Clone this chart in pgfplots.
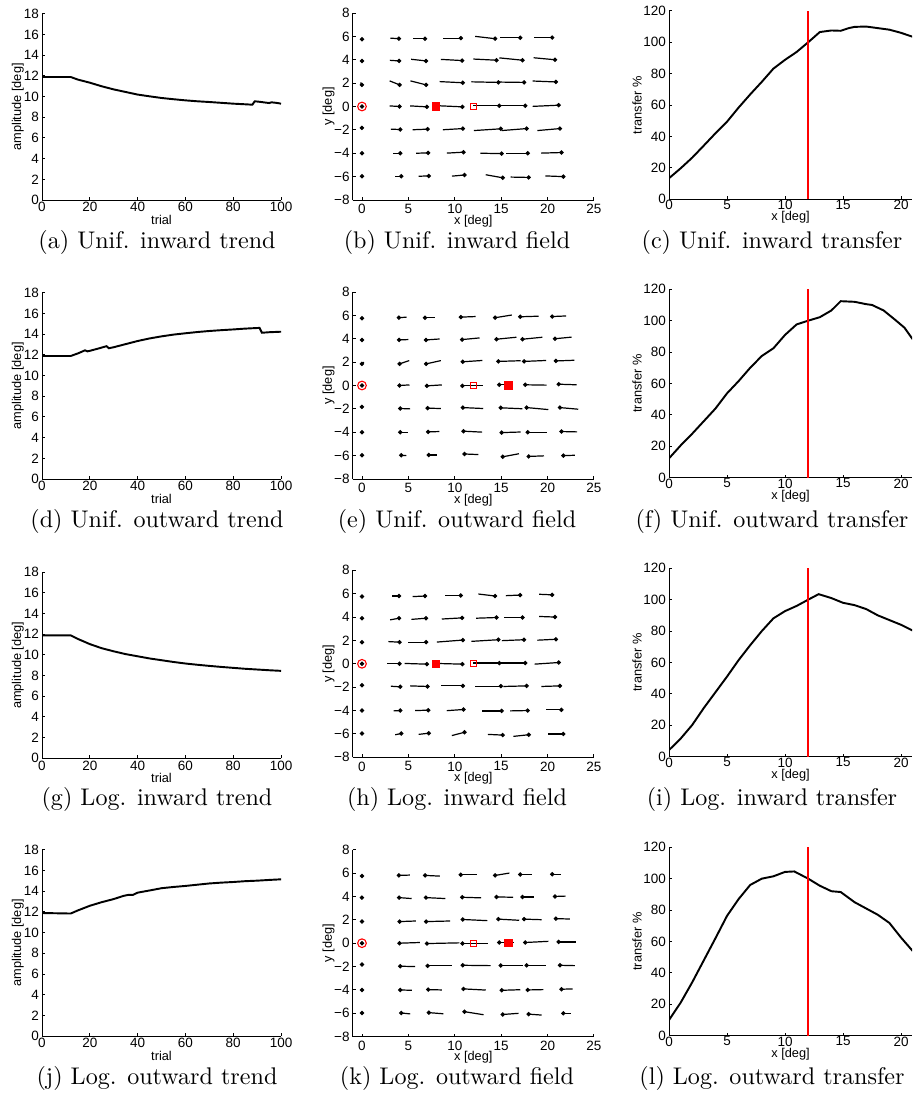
\documentclass[border=0pt]{standalone}
\usepackage{fontspec}
\usepackage{pgfplots}
\usepackage{pgfplotstable}
\pgfplotsset{compat=1.18}
\newfontfamily\arial{Liberation Sans}
\newcommand\px{0.415pt}

% amplitude trends (trial, amplitude)
\pgfplotstableread{
x y
0 11.9
12 11.9
15 11.65
20 11.35
25 11.0
30 10.7
35 10.45
40 10.2
45 10.03
50 9.87
55 9.75
60 9.64
65 9.55
70 9.48
75 9.4
80 9.32
85 9.26
88 9.22
89 9.55
91 9.5
95 9.38
96 9.45
98 9.4
100 9.32
}\trendA
\pgfplotstableread{
x y
0 11.9
12 11.9
15 12.15
18 12.45
19 12.35
20 12.4
24 12.65
27 12.85
28 12.65
30 12.75
35 13.05
40 13.35
45 13.6
50 13.8
55 13.97
60 14.1
65 14.22
70 14.32
75 14.4
80 14.47
85 14.55
91 14.62
92 14.15
95 14.2
100 14.25
}\trendD
\pgfplotstableread{
x y
0 11.9
12 11.9
15 11.55
20 11.05
25 10.65
30 10.35
35 10.08
40 9.87
45 9.66
50 9.49
55 9.32
60 9.17
65 9.05
70 8.94
75 8.84
80 8.75
85 8.66
90 8.59
95 8.52
100 8.46
}\trendG
\pgfplotstableread{
x y
0 11.9
12 11.85
15 12.15
20 12.6
25 12.95
30 13.25
34 13.55
36 13.65
38 13.65
40 13.87
45 14.08
50 14.3
55 14.42
60 14.52
65 14.64
70 14.76
75 14.84
80 14.9
85 14.98
90 15.03
95 15.1
100 15.16
}\trendJ

% transfer curves (x [deg], transfer %)
\pgfplotstableread{
x y
0 13.4
1 19.7
2 26.5
3 34.2
4 42
5 49.4
6 58.4
7 66.8
8 74.8
9 83.2
10 88.8
11 93.8
12 100
13 106.5
14 107.5
14.8 107.3
15.5 109
16 109.8
17 110
18 109
19 108
20 106
21 103.5
}\transC
\pgfplotstableread{
x y
0 12.3
1 20.5
2 28
3 36
4 44
5 53.7
6 61.5
7 70
8 77.5
9 82.4
10 90.9
11 97.6
12 100
13 102.2
14 106.5
14.8 112.4
16 112
17 110.5
17.5 110
18.5 106.5
19.5 100.5
20.3 95.5
21 88.2
}\transF
\pgfplotstableread{
x y
0 4.2
1 11.5
2 20.2
3 31
4 41
5 51
6 61.5
7 71
8 80
9 88.1
10 92.7
11 96
12 100
12.9 103.5
14 101
15 98
16 96.5
17 94
18 90
19 87
20 84
21 80.3
}\transI
\pgfplotstableread{
x y
0 10
1 21
2 34
3 48
4 62
5 76.3
6 87
7 96
8 100
9 101.5
10 104.3
10.8 104.6
12 100
13 95.5
14 92
14.8 91.5
16 85
17 81
18 77
19 71.8
20 62.5
21 54
}\transL

% fields: dot position (x,y) and segment (u,v)
\pgfplotstableread{
x y u v
0 5.75 0 0
3.98 5.8 -0.93 0.05
6.8 5.8 -1.35 0
10.65 5.85 -1.9 0
14.35 5.8 -2.15 0.2
17.05 5.88 -2.15 0
20.5 5.9 -2.0 0
0 3.9 0 0
4.0 3.9 -1.0 0.05
6.9 3.9 -1.6 0.14
10.8 3.93 -2.3 0.1
14.5 3.96 -2.5 0.1
17.3 3.96 -2.5 0.2
20.8 4.0 -2.3 0.17
0 1.85 -0.15 0.2
4.05 1.85 -1.07 0.34
6.92 1.85 -1.7 0.34
10.87 2.03 -2.5 0.1
14.7 2.06 -2.9 0.05
17.47 2.06 -2.7 0.03
20.9 2.1 -2.5 0.08
0 0 0 0
4.05 0 -1.07 0.05
7.0 -0.03 -1.8 0.08
10.83 -0.03 -2.8 0.1
14.8 0.06 -2.8 0
17.6 0.06 -2.8 0
21.2 0.11 -2.8 -0.1
0 -1.83 0 0
4.12 -1.97 -1.0 0.03
7.07 -1.94 -1.6 -0.05
10.87 -1.89 -2.15 -0.1
14.96 -1.91 -2.9 -0.15
17.75 -1.89 -2.7 -0.17
21.34 -1.89 -2.44 -0.17
0 -4.0 0 0
4.12 -4.0 -0.8 0
7.14 -3.97 -1.3 -0.03
10.94 -3.91 -1.8 -0.08
15.06 -4.03 -2.3 0.03
17.86 -4.0 -2.3 0
21.5 -3.94 -2.2 -0.05
0 -5.97 0 0
4.23 -5.97 -0.65 0
7.2 -5.94 -1.1 -0.03
11.05 -5.86 -1.35 -0.1
15.17 -6.1 -1.83 0.26
17.97 -6.07 -1.95 0.03
21.7 -6.0 -1.94 0.06
}\fieldB
\pgfplotstableread{
x y u v
0 5.75 0 0
3.98 5.8 0.83 0.05
6.8 5.8 1.08 0
10.65 5.85 1.6 0.05
14.35 5.8 1.8 0.23
17.05 5.88 2.0 0.05
20.5 5.9 1.5 0.05
0 3.9 0 0
4.0 3.9 1.0 0.03
6.9 3.9 1.47 0.08
10.8 3.93 1.87 0.14
14.5 3.96 2.15 0.17
17.3 3.96 2.15 0.17
20.8 4.0 1.8 0.14
0 1.85 0.2 0.15
4.05 1.85 1.04 0.28
6.92 1.85 1.58 0.28
10.87 2.03 2.1 0.11
14.7 2.06 2.4 0.06
17.47 2.06 2.37 0.08
20.9 2.1 2.0 0.06
0 0 0 0
4.05 0 1.07 0.05
7.0 -0.03 1.6 0.08
10.83 -0.03 2.2 0
14.8 0.06 1.5 0
17.6 0.06 2.3 -0.03
21.2 0.11 1.94 -0.05
0 -1.83 0 0
4.12 -1.97 1.07 -0.03
7.07 -1.94 1.43 -0.03
10.87 -1.89 2.2 -0.08
14.96 -1.91 2.33 -0.08
17.75 -1.89 2.33 -0.17
21.34 -1.89 1.97 -0.14
0 -4.0 0 0
4.12 -4.0 0.8 0
7.14 -3.97 1.2 0.03
10.94 -3.91 2.0 -0.08
15.06 -4.03 2.05 0.05
17.86 -4.0 2.1 0
21.5 -3.94 1.7 -0.03
0 -5.97 0 0
4.23 -5.97 0.55 -0.03
7.2 -5.94 0.93 0
11.05 -5.86 1.5 -0.05
15.17 -6.1 1.75 0.26
17.97 -6.07 1.65 0.05
21.7 -6.0 1.25 0.03
}\fieldE
\pgfplotstableread{
x y u v
0 5.75 0 0
3.98 5.8 -0.72 0
6.8 5.8 -1.33 -0.05
10.65 5.85 -1.72 0
14.35 5.8 -1.8 0.17
17.05 5.88 -1.54 -0.05
20.5 5.9 -1.4 0.05
0 3.9 0 0
4.0 3.9 -0.97 -0.14
6.9 3.9 -1.58 -0.1
10.8 3.93 -2.2 -0.1
14.5 3.96 -2.2 -0.06
17.3 3.96 -2.0 0
20.8 4.0 -1.7 0.05
0 1.85 0 0
4.05 1.85 -1.2 0.05
6.92 1.85 -2.0 0
10.87 2.03 -2.8 -0.17
14.7 2.06 -2.9 -0.14
17.47 2.06 -2.4 -0.08
20.9 2.1 -2.0 -0.08
0 0 0 0
4.05 0 -1.3 0
7.0 -0.03 -2.4 0.06
10.83 -0.03 -2.8 0.06
14.8 0.06 -2.8 0
17.6 0.06 -2.7 0
21.2 0.11 -2.6 -0.14
0 -1.83 0 0
4.12 -1.97 -1.0 0.05
7.07 -1.94 -1.87 0.05
10.87 -1.89 -2.37 0
14.96 -1.91 -2.76 0
17.75 -1.89 -2.5 -0.05
21.34 -1.89 -2.0 -0.05
0 -4.0 0 0
4.12 -4.0 -0.72 -0.03
7.14 -3.97 -1.4 -0.03
10.94 -3.91 -1.8 -0.1
15.06 -4.03 -2.15 0
17.86 -4.0 -1.9 -0.03
21.5 -3.94 -1.7 0
0 -5.97 0 0
4.23 -5.97 -0.65 -0.1
7.2 -5.94 -1.1 -0.1
11.05 -5.86 -1.36 -0.28
15.17 -6.1 -1.6 0.06
17.97 -6.07 -1.65 -0.14
21.7 -6.0 -1.6 0
}\fieldH
\pgfplotstableread{
x y u v
0 5.75 0 0
3.98 5.8 1.18 0.03
6.8 5.8 1.6 -0.06
10.65 5.85 1.7 0
14.35 5.8 1.54 0.2
17.05 5.88 1.25 0
20.5 5.9 0.9 0
0 3.9 0 0
4.0 3.9 1.36 -0.08
6.9 3.9 2.08 -0.08
10.8 3.93 2.05 -0.05
14.5 3.96 1.8 -0.03
17.3 3.96 1.2 0
20.8 4.0 1.15 0.03
0 1.85 0 0
4.05 1.85 1.75 0.05
6.92 1.85 2.58 0.05
10.87 2.03 2.65 -0.1
14.7 2.06 2.25 -0.1
17.47 2.06 1.9 -0.05
20.9 2.1 1.5 -0.03
0 0 0 0
4.05 0 2.2 0.06
7.0 -0.03 3.5 0.06
10.83 -0.03 2.7 0
14.8 0.06 1.6 0
17.6 0.06 2.5 0.1
21.2 0.11 1.86 0
0 -1.83 0 0
4.12 -1.97 1.6 -0.03
7.07 -1.94 2.6 0
10.87 -1.89 3.0 -0.03
14.96 -1.91 2.37 0
17.75 -1.89 2.1 0
21.34 -1.89 1.6 -0.03
0 -4.0 0 0
4.12 -4.0 1.25 -0.03
7.14 -3.97 1.47 -0.03
10.94 -3.91 2.4 -0.1
15.06 -4.03 2.0 0.05
17.86 -4.0 1.7 0.03
21.5 -3.94 1.2 0.03
0 -5.97 0 0
4.23 -5.97 0.97 -0.08
7.2 -5.94 1.58 -0.1
11.05 -5.86 2.05 -0.26
15.17 -6.1 1.7 0.1
17.97 -6.07 1.4 -0.08
21.7 -6.0 0.8 0
}\fieldK

\pgfplotsset{
  mat/.style={
    scale only axis,
    anchor=south west,
    axis lines=left,
    axis line style={-, line width=0.4pt},
    tick align=inside,
    major tick length=1.2pt,
    tick style={line width=0.4pt, black},
    /pgf/number format/assume math mode=true,
    tick label style={font=\arial\fontsize{5.6}{6}\selectfont},
    label style={font=\arial\fontsize{5.3}{6}\selectfont},
    yticklabel style={inner sep=0pt, anchor=east, xshift=-1.1pt},
    xticklabel style={inner sep=0pt, anchor=north},
  },
  trend/.style={mat,
    width=99.2pt, height=77.2pt,
    xmin=0, xmax=100, ymin=0, ymax=18,
    xtick={0,20,...,100}, ytick={0,2,...,18},
    xticklabel style={yshift=-0.8pt},
    xlabel={trial}, ylabel={amplitude [deg]},
    xlabel style={at={([yshift=-8.3pt]axis description cs:0.5,0)}, anchor=center},
    ylabel style={at={([xshift=-10pt]axis description cs:0,0.5)}, anchor=center},
  },
  field/.style={mat,
    width=100.1pt, height=77.6pt,
    xmin=-1, xmax=25, ymin=-8, ymax=8,
    xtick={0,5,...,25}, ytick={-8,-6,...,8},
    yticklabels={−8,−6,−4,−2,0,2,4,6,8},
    xticklabel style={yshift=-1.6pt},
    xlabel={x [deg]}, ylabel={y [deg]},
    xlabel style={at={([yshift=-8.7pt]axis description cs:0.5,0)}, anchor=center},
    ylabel style={at={([xshift=-10pt]axis description cs:0,0.5)}, anchor=center},
  },
  transfer/.style={mat,
    width=100.85pt, height=78.2pt,
    xmin=0, xmax=20.95, ymin=0, ymax=120,
    xtick={0,5,...,20}, ytick={0,20,...,120},
    xticklabel style={yshift=-0.2pt},
    xlabel={x [deg]}, ylabel={transfer \%},
    xlabel style={at={([yshift=-7.6pt]axis description cs:0.5,0)}, anchor=center},
    ylabel style={at={([xshift=-13.3pt]axis description cs:0,0.5)}, anchor=center},
  },
  curve/.style={black, line width=0.8pt, sharp plot},
  seg/.style={black, line width=0.5pt, quiver={u=\thisrow{u}, v=\thisrow{v}}},
  dots/.style={black, only marks, mark=*, mark size=0.7pt},
  ring/.style={red, only marks, mark=o, mark size=1.8pt, line width=0.45pt},
  fsq/.style={red, only marks, mark=square*, mark size=1.5pt},
  osq/.style={red, only marks, mark=square, mark size=1.3pt, line width=0.45pt},
  vline/.style={red, line width=0.6pt},
}

\begin{document}
\begin{tikzpicture}
\path[use as bounding box] (0,0) rectangle ({912*\px},{1104*\px});

% row 1
\begin{axis}[trend, at={({42*\px},{(1104-200)*\px})}]
\addplot[curve] table {\trendA};
\end{axis}
\begin{axis}[field, at={({352.7*\px},{(1104-200)*\px})}]
\addplot[seg] table[x=x, y=y] {\fieldB};
\addplot[dots] table[x=x, y=y] {\fieldB};
\addplot[ring] coordinates {(0,0)};
\addplot[fsq] coordinates {(8,0)};
\addplot[osq] coordinates {(12,0)};
\end{axis}
\begin{axis}[transfer, at={({669*\px},{(1104-199.3)*\px})}]
\addplot[curve] table {\transC};
\addplot[vline] coordinates {(12,0) (12,120)};
\end{axis}

% row 2
\begin{axis}[trend, at={({42*\px},{(1104-479)*\px})}]
\addplot[curve] table {\trendD};
\end{axis}
\begin{axis}[field, at={({352.7*\px},{(1104-479)*\px})}]
\addplot[seg] table[x=x, y=y] {\fieldE};
\addplot[dots] table[x=x, y=y] {\fieldE};
\addplot[ring] coordinates {(0,0)};
\addplot[osq] coordinates {(12,0)};
\addplot[fsq] coordinates {(15.8,0)};
\end{axis}
\begin{axis}[transfer, at={({669*\px},{(1104-477.7)*\px})}]
\addplot[curve] table {\transF};
\addplot[vline] coordinates {(12,0) (12,120)};
\end{axis}

% row 3
\begin{axis}[trend, at={({42*\px},{(1104-758.3)*\px})}]
\addplot[curve] table {\trendG};
\end{axis}
\begin{axis}[field, at={({352.7*\px},{(1104-757.3)*\px})}]
\addplot[seg] table[x=x, y=y] {\fieldH};
\addplot[dots] table[x=x, y=y] {\fieldH};
\addplot[ring] coordinates {(0,0)};
\addplot[fsq] coordinates {(8,0)};
\addplot[osq] coordinates {(12,0)};
\end{axis}
\begin{axis}[transfer, at={({669*\px},{(1104-756.7)*\px})}]
\addplot[curve] table {\transI};
\addplot[vline] coordinates {(12,0) (12,120)};
\end{axis}

% row 4
\begin{axis}[trend, at={({42*\px},{(1104-1036)*\px})}]
\addplot[curve] table {\trendJ};
\end{axis}
\begin{axis}[field, at={({352.7*\px},{(1104-1036.7)*\px})}]
\addplot[seg] table[x=x, y=y] {\fieldK};
\addplot[dots] table[x=x, y=y] {\fieldK};
\addplot[ring] coordinates {(0,0)};
\addplot[osq] coordinates {(12,0)};
\addplot[fsq] coordinates {(15.8,0)};
\end{axis}
\begin{axis}[transfer, at={({669*\px},{(1104-1035.7)*\px})}]
\addplot[curve] table {\transL};
\addplot[vline] coordinates {(12,0) (12,120)};
\end{axis}

% captions
\begin{scope}[every node/.style={anchor=base, font=\fontsize{10}{12}\selectfont, inner sep=0pt}]
\node at ({157*\px},{(1104-248.5)*\px}) {(a) Unif. inward trend};
\node at ({457*\px},{(1104-248.5)*\px}) {(b) Unif. inward field};
\node at ({772*\px},{(1104-248.5)*\px}) {(c) Unif. inward transfer};
\node at ({157*\px},{(1104-527.3)*\px}) {(d) Unif. outward trend};
\node at ({457*\px},{(1104-527.3)*\px}) {(e) Unif. outward field};
\node at ({772*\px},{(1104-527.3)*\px}) {(f) Unif. outward transfer};
\node at ({157*\px},{(1104-805.8)*\px}) {(g) Log. inward trend};
\node at ({457*\px},{(1104-805.8)*\px}) {(h) Log. inward field};
\node at ({772*\px},{(1104-805.8)*\px}) {(i) Log. inward transfer};
\node at ({157*\px},{(1104-1084.5)*\px}) {(j) Log. outward trend};
\node at ({457*\px},{(1104-1084.5)*\px}) {(k) Log. outward field};
\node at ({772*\px},{(1104-1084.5)*\px}) {(l) Log. outward transfer};
\end{scope}
\end{tikzpicture}
\end{document}
